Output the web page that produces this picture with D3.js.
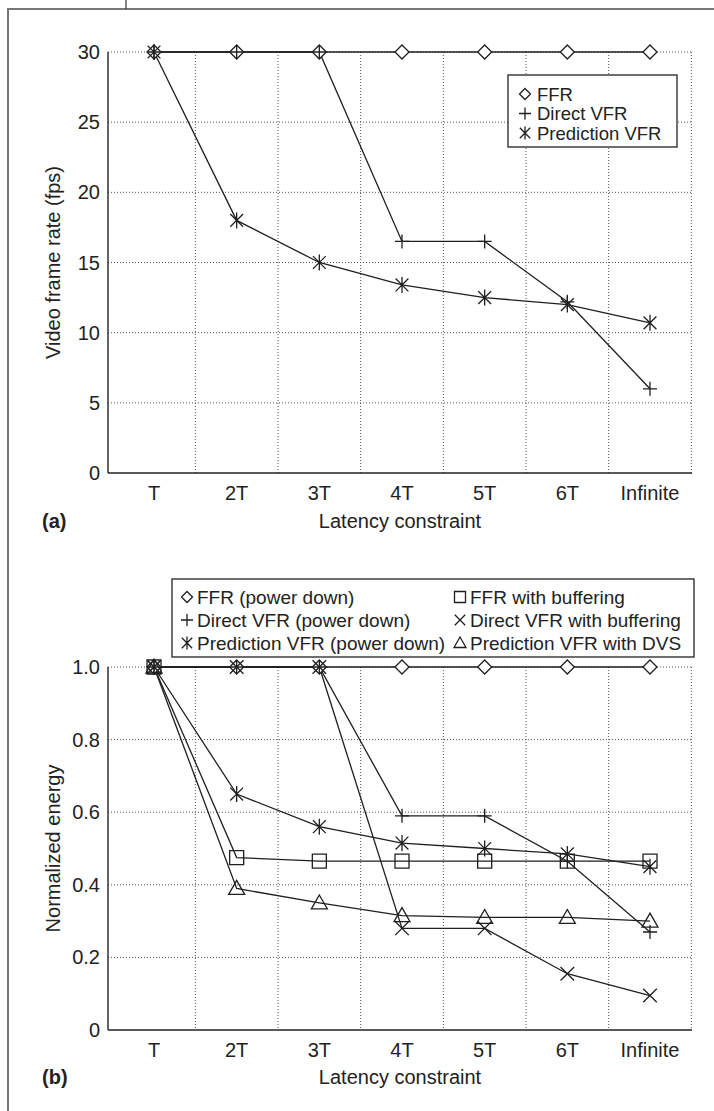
<!DOCTYPE html>
<html>
<head>
<meta charset="utf-8">
<script src="https://d3js.org/d3.v7.min.js"></script>
<style>
  body { margin: 0; background: #fff; }
  text { font-family: "Liberation Sans", Arial, Helvetica, sans-serif; fill: #222; }
  .grid { stroke: #555; stroke-width: 1; stroke-dasharray: 1,2; fill: none; }
  .axis { stroke: #222; stroke-width: 1.4; fill: none; }
  .series { stroke: #1f1f1f; stroke-width: 1.3; fill: none; }
  .mark { stroke: #1f1f1f; stroke-width: 1.3; }
</style>
</head>
<body>
<svg id="fig" width="714" height="1111"></svg>
<script>
  // x categories shared by both panels
  const categories = ["T", "2T", "3T", "4T", "5T", "6T", "Infinite"];

  // panel (a): video frame rate (fps)
  const fpsTicks = [0, 5, 10, 15, 20, 25, 30];
  const fpsFFR = [30, 30, 30, 30, 30, 30, 30];
  const fpsDirect = [30, 30, 30, 16.5, 16.5, 12.2, 6];
  const fpsPrediction = [30, 18, 15, 13.4, 12.5, 12, 10.7];

  // panel (b): normalized energy
  const energyTicks = [0, 0.2, 0.4, 0.6, 0.8, 1.0];
  const energyFFRPowerDown = [1, 1, 1, 1, 1, 1, 1];
  const energyDirectPowerDown = [1, 1, 1, 0.59, 0.59, 0.465, 0.27];
  const energyPredPowerDown = [1, 0.65, 0.56, 0.515, 0.5, 0.485, 0.45];
  const energyFFRBuffering = [1, 0.475, 0.465, 0.465, 0.465, 0.465, 0.465];
  const energyDirectBuffering = [1, 1, 1, 0.28, 0.28, 0.155, 0.095];
  const energyPredDVS = [1, 0.39, 0.35, 0.315, 0.31, 0.31, 0.30];

  const svg = d3.select("#fig");

  // outer figure frame (only top and left edges fall inside the page)
  svg.append("rect").attr("x", 8).attr("y", 9).attr("width", 730).attr("height", 1130)
    .attr("fill", "none").attr("stroke", "#777").attr("stroke-width", 2);
  svg.append("line").attr("x1", 126).attr("y1", 0).attr("x2", 126).attr("y2", 9)
    .attr("stroke", "#333").attr("stroke-width", 1.2);

  // marker shapes
  function markerPath(type, r) {
    const k = r * 0.8;
    switch (type) {
      case "diamond": return `M0,${-r}L${r},0L0,${r}L${-r},0Z`;
      case "plus": return `M${-r},0H${r}M0,${-r}V${r}`;
      case "star": return `M${-k},${-k}L${k},${k}M${k},${-k}L${-k},${k}M0,${-r}V${r}`;
      case "cross": return `M${-k},${-k}L${k},${k}M${k},${-k}L${-k},${k}`;
      case "square": return `M${-r},${-r}H${r}V${r}H${-r}Z`;
      case "triangle": return `M0,${-r}L${r},${r * 0.75}L${-r},${r * 0.75}Z`;
    }
  }

  function drawPanel(cfg) {
    const g = svg.append("g");
    const x = d3.scalePoint().domain(categories).range([154, 650]);
    const step = x.step();
    const y = d3.scaleLinear().domain(cfg.domain).range([cfg.bottom, cfg.top]);
    const left = 108, right = 692;

    // horizontal grid
    g.selectAll(".hgrid").data(cfg.ticks.filter(t => t > 0)).enter().append("line")
      .attr("class", "grid")
      .attr("x1", left).attr("x2", right)
      .attr("y1", d => y(d)).attr("y2", d => y(d));
    // vertical grid, between categories
    g.selectAll(".vgrid").data(categories).enter().append("line")
      .attr("class", "grid")
      .attr("x1", d => x(d) + step / 2).attr("x2", d => x(d) + step / 2)
      .attr("y1", y(cfg.domain[1])).attr("y2", y(0));

    // axes
    g.append("line").attr("class", "axis")
      .attr("x1", left).attr("x2", left).attr("y1", y(cfg.domain[1])).attr("y2", y(0));
    g.append("line").attr("class", "axis")
      .attr("x1", left).attr("x2", right).attr("y1", y(0)).attr("y2", y(0));

    // tick labels
    g.selectAll(".ylab").data(cfg.ticks).enter().append("text")
      .attr("x", 100).attr("y", d => y(d))
      .attr("text-anchor", "end").attr("dominant-baseline", "central")
      .style("font-size", "20px")
      .text(cfg.fmt);
    g.selectAll(".xlab").data(categories).enter().append("text")
      .attr("x", d => x(d)).attr("y", y(0) + 20)
      .attr("text-anchor", "middle").attr("dominant-baseline", "central")
      .style("font-size", "20px")
      .text(d => d);

    // titles
    g.append("text")
      .attr("x", 400).attr("y", cfg.titleY)
      .attr("text-anchor", "middle").attr("dominant-baseline", "central")
      .style("font-size", "20px")
      .text("Latency constraint");
    g.append("text")
      .attr("x", 42).attr("y", cfg.titleY)
      .attr("dominant-baseline", "central")
      .style("font-size", "20px").style("font-weight", "bold")
      .text(cfg.label);
    g.append("text")
      .attr("transform", `translate(53,${(y(0) + y(cfg.domain[1])) / 2}) rotate(-90)`)
      .attr("text-anchor", "middle").attr("dominant-baseline", "central")
      .style("font-size", "20px")
      .text(cfg.yTitle);

    // series lines
    const line = d3.line().x((d, i) => x(categories[i])).y(d => y(d));
    cfg.series.forEach(s => {
      g.append("path").attr("class", "series").attr("d", line(s.values));
    });
    // markers
    cfg.series.forEach(s => {
      g.selectAll(null).data(s.values).enter().append("path")
        .attr("class", "mark")
        .attr("transform", (d, i) => `translate(${x(categories[i])},${y(d)})`)
        .attr("d", markerPath(s.marker, s.r))
        .attr("fill", s.marker === "diamond" ? "#fff" : "none");
    });
    return g;
  }

  drawPanel({
    domain: [0, 30], top: 52, bottom: 473, ticks: fpsTicks, fmt: d => d,
    titleY: 521, label: "(a)", yTitle: "Video frame rate (fps)",
    series: [
      { values: fpsFFR, marker: "diamond", r: 7 },
      { values: fpsDirect, marker: "plus", r: 7 },
      { values: fpsPrediction, marker: "star", r: 8 }
    ]
  });

  drawPanel({
    domain: [0, 1], top: 667, bottom: 1030, ticks: energyTicks,
    fmt: d => d === 0 ? "0" : d3.format(".1f")(d),
    titleY: 1077, label: "(b)", yTitle: "Normalized energy",
    series: [
      { values: energyFFRPowerDown, marker: "diamond", r: 7 },
      { values: energyDirectPowerDown, marker: "plus", r: 7 },
      { values: energyPredPowerDown, marker: "star", r: 8 },
      { values: energyFFRBuffering, marker: "square", r: 7 },
      { values: energyDirectBuffering, marker: "cross", r: 8.5 },
      { values: energyPredDVS, marker: "triangle", r: 8 }
    ]
  });

  // legend (a)
  const legA = [
    { name: "FFR", marker: "diamond", r: 5.5 },
    { name: "Direct VFR", marker: "plus", r: 6 },
    { name: "Prediction VFR", marker: "star", r: 6.5 }
  ];
  const la = svg.append("g");
  la.append("rect").attr("x", 508).attr("y", 75).attr("width", 169).attr("height", 72)
    .attr("fill", "#fff").attr("stroke", "#222").attr("stroke-width", 1.3);
  legA.forEach((d, i) => {
    const cy = 94 + i * 19.5;
    la.append("path").attr("class", "mark").attr("transform", `translate(525,${cy})`)
      .attr("d", markerPath(d.marker, d.r)).attr("fill", "none");
    la.append("text").attr("x", 537).attr("y", cy).attr("dominant-baseline", "central")
      .style("font-size", "18.5px").text(d.name);
  });

  // legend (b)
  const legB = [
    { name: "FFR (power down)", marker: "diamond", r: 5.5 },
    { name: "Direct VFR (power down)", marker: "plus", r: 6 },
    { name: "Prediction VFR (power down)", marker: "star", r: 6.5 },
    { name: "FFR with buffering", marker: "square", r: 5.5 },
    { name: "Direct VFR with buffering", marker: "cross", r: 6.5 },
    { name: "Prediction VFR with DVS", marker: "triangle", r: 6 }
  ];
  const lb = svg.append("g");
  lb.append("rect").attr("x", 172).attr("y", 579).attr("width", 522).attr("height", 78)
    .attr("fill", "#fff").attr("stroke", "#222").attr("stroke-width", 1.3);
  legB.forEach((d, i) => {
    const col = Math.floor(i / 3), row = i % 3;
    const cx = col === 0 ? 187 : 460;
    const cy = 597 + row * 23;
    lb.append("path").attr("class", "mark").attr("transform", `translate(${cx},${cy})`)
      .attr("d", markerPath(d.marker, d.r)).attr("fill", "none");
    lb.append("text").attr("x", cx + 10).attr("y", cy).attr("dominant-baseline", "central")
      .style("font-size", "19px").text(d.name);
  });
</script>
</body>
</html>
